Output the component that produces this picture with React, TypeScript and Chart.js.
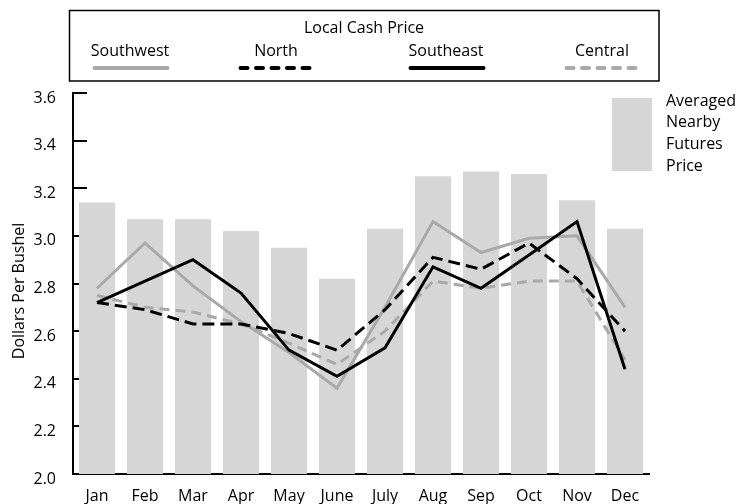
import React, { useEffect, useRef } from "react";
import { Chart, registerables } from "chart.js";

Chart.register(...registerables);

const months = ["Jan", "Feb", "Mar", "Apr", "May", "June", "July", "Aug", "Sep", "Oct", "Nov", "Dec"];
const futures = [3.14, 3.07, 3.07, 3.02, 2.95, 2.82, 3.03, 3.25, 3.27, 3.26, 3.15, 3.03];
const southwest = [2.78, 2.97, 2.79, 2.64, 2.51, 2.36, 2.70, 3.06, 2.93, 2.99, 3.0, 2.70];
const north = [2.72, 2.69, 2.63, 2.63, 2.59, 2.52, 2.69, 2.91, 2.86, 2.97, 2.82, 2.60];
const southeast = [2.72, 2.81, 2.90, 2.76, 2.52, 2.41, 2.53, 2.87, 2.78, 2.92, 3.06, 2.44];
const central = [2.75, 2.70, 2.68, 2.63, 2.55, 2.46, 2.60, 2.81, 2.78, 2.81, 2.81, 2.48];
const yTicks = [2.0, 2.2, 2.4, 2.6, 2.8, 3.0, 3.2, 3.4, 3.6];

const FONT = "'Open Sans', sans-serif";
const BAR = "#d6d6d6";
const GRAY = "#a9a9a9";

const legendItems = [
  { label: "Southwest", color: GRAY, dash: [] as number[], cx: 130 },
  { label: "North", color: "#000", dash: [7, 8.5], cx: 276 },
  { label: "Southeast", color: "#000", dash: [] as number[], cx: 446 },
  { label: "Central", color: GRAY, dash: [7, 8.5], cx: 602 },
];
const futuresLegend = ["Averaged", "Nearby", "Futures", "Price"];

const decorPlugin = {
  id: "decor",
  beforeDatasetsDraw(chart: any) {
    const ctx = chart.ctx;
    const y = chart.scales.y;
    const x0 = chart.chartArea.left;
    ctx.save();
    ctx.strokeStyle = "#000";
    ctx.lineWidth = 2;
    yTicks.forEach((t) => {
      const py = Math.round(y.getPixelForValue(t));
      ctx.beginPath();
      ctx.moveTo(x0, py);
      ctx.lineTo(x0 + 14, py);
      ctx.stroke();
    });
    ctx.restore();
  },
  afterDraw(chart: any) {
    const ctx = chart.ctx;
    ctx.save();
    ctx.fillStyle = "#000";
    ctx.font = `16px ${FONT}`;
    ctx.textAlign = "center";
    ctx.textBaseline = "middle";
    ctx.translate(19, 291);
    ctx.rotate(-Math.PI / 2);
    ctx.fillText("Dollars Per Bushel", 0, 0);
    ctx.restore();

    ctx.save();
    ctx.strokeStyle = "#000";
    ctx.lineWidth = 1.5;
    ctx.strokeRect(69.5, 10.5, 589.5, 70.5);
    ctx.fillStyle = "#000";
    ctx.font = `16px ${FONT}`;
    ctx.textAlign = "center";
    ctx.textBaseline = "middle";
    ctx.fillText("Local Cash Price", 364, 28);
    legendItems.forEach((it) => {
      ctx.fillStyle = "#000";
      ctx.fillText(it.label, it.cx, 51);
      ctx.beginPath();
      ctx.strokeStyle = it.color;
      ctx.lineWidth = 4;
      ctx.lineCap = "round";
      ctx.setLineDash(it.dash);
      ctx.moveTo(it.cx - 35.5, 68);
      ctx.lineTo(it.cx + 37.5, 68);
      ctx.stroke();
      ctx.setLineDash([]);
    });
    ctx.fillStyle = BAR;
    ctx.fillRect(612, 98, 40, 73);
    ctx.fillStyle = "#000";
    ctx.textAlign = "left";
    futuresLegend.forEach((t, i) => {
      ctx.fillText(t, 666, 101 + i * 21.7);
    });
    ctx.restore();
  },
};

export default function App() {
  const ref = useRef<HTMLCanvasElement>(null);
  useEffect(() => {
    if (!ref.current) return;
    const lineBase = { type: "line" as const, pointRadius: 0, borderWidth: 3, tension: 0, fill: false };
    const chart = new Chart(ref.current, {
      type: "bar",
      data: {
        labels: months,
        datasets: [
          { ...lineBase, label: "Southeast", data: southeast, borderColor: "#000", order: 1 } as any,
          { ...lineBase, label: "North", data: north, borderColor: "#000", borderDash: [12, 6], order: 2 } as any,
          { ...lineBase, label: "Southwest", data: southwest, borderColor: GRAY, order: 3 } as any,
          { ...lineBase, label: "Central", data: central, borderColor: GRAY, borderDash: [10, 6], order: 4 } as any,
          {
            type: "bar",
            label: "Averaged Nearby Futures Price",
            data: futures,
            backgroundColor: BAR,
            barPercentage: 0.75,
            categoryPercentage: 1,
            order: 10,
          } as any,
        ],
      },
      options: {
        responsive: false,
        animation: false,
        devicePixelRatio: 1,
        layout: { padding: { top: 93, right: 92, left: 0, bottom: 0 } },
        plugins: { legend: { display: false }, tooltip: { enabled: false } },
        scales: {
          x: {
            grid: { display: false },
            border: { display: true, color: "#000", width: 2 },
            ticks: { color: "#000", font: { family: FONT, size: 16 }, padding: 5, maxRotation: 0, autoSkip: false },
            afterFit: (s: any) => {
              s.height = 30;
            },
          },
          y: {
            min: 2.0,
            max: 3.6,
            grid: { display: false },
            border: { display: true, color: "#000", width: 2 },
            ticks: {
              stepSize: 0.2,
              color: "#000",
              font: { family: FONT, size: 16 },
              padding: 9,
              labelOffset: 5,
              callback: (v: any) => Number(v).toFixed(1),
            },
            afterFit: (s: any) => {
              s.width = 73;
            },
          },
        },
      } as any,
      plugins: [decorPlugin],
    });
    return () => chart.destroy();
  }, []);
  return (
    <div style={{ position: "fixed", left: 0, top: 0, width: 741, height: 504, background: "#fff" }}>
      <canvas ref={ref} width={741} height={504} style={{ width: 741, height: 504, display: "block" }} />
    </div>
  );
}
